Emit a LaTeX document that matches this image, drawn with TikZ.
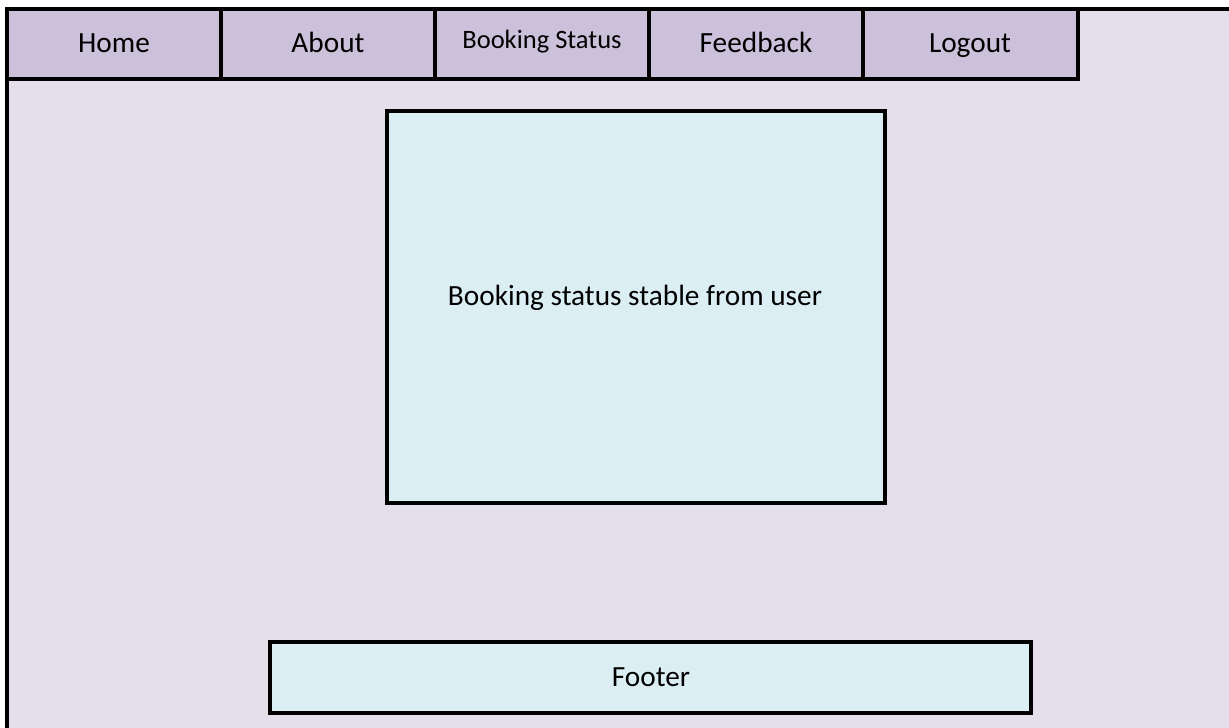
\documentclass[tikz,border=0pt]{standalone}
\usepackage{fontspec}
\setmainfont{Carlito}
\definecolor{bgc}{HTML}{E5DFEC}
\definecolor{tabc}{HTML}{CCC1DA}
\definecolor{boxc}{HTML}{DAEEF3}
\tikzset{
  frame/.style={draw=black, line width=4.5pt, fill=bgc},
  tabbox/.style={draw=black, line width=4.5pt, fill=tabc},
  panel/.style={draw=black, line width=4.5pt, fill=boxc},
  lbl/.style={font=\fontsize{29.3}{34}\selectfont, inner sep=0pt, anchor=base},
  smalllbl/.style={font=\fontsize{26.5}{31}\selectfont, inner sep=0pt, anchor=base}
}
\begin{document}
\begin{tikzpicture}[x=1pt,y=-1pt]
\useasboundingbox (0,0) rectangle (1229,728);
\clip (0,0) rectangle (1229,728);
\fill[white] (0,0) rectangle (1229,728);
\draw[frame] (7,9) rectangle (1250,750);
\draw[tabbox] (7,9) rectangle (221,79);
\draw[tabbox] (221,9) rectangle (435,79);
\draw[tabbox] (435,9) rectangle (649,79);
\draw[tabbox] (649,9) rectangle (863,79);
\draw[tabbox] (863,9) rectangle (1078,79);
\node[lbl] (home) at (114,52) {Home};
\node[lbl] (about) at (328,52) {About};
\node[smalllbl] (status) at (542,48) {Booking Status};
\node[lbl] (feedback) at (756,52) {Feedback};
\node[lbl] (logout) at (970,52) {Logout};
\draw[panel] (387,111) rectangle (885,503);
\node[lbl] (content) at (635,305) {Booking status stable from user};
\draw[panel] (270,642) rectangle (1031,713);
\node[lbl] (footer) at (651,686) {Footer};
\end{tikzpicture}
\end{document}
